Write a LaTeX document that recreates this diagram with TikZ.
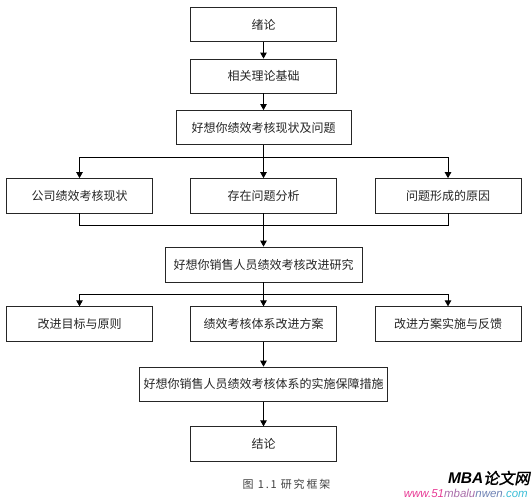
\documentclass[tikz,border=0pt]{standalone}
\usepackage{fontspec}
\usetikzlibrary{arrows.meta}
\setmainfont{Noto Sans CJK SC}
\newfontfamily\wmcjk[FakeSlant=0.2,FakeBold=1.5]{Noto Sans CJK SC}
\newfontfamily\capfont[LetterSpace=16]{Noto Sans CJK SC}
\newfontfamily\wmbold{Liberation Sans Bold Italic}
\newfontfamily\wmital{Liberation Sans Italic}
\definecolor{wa}{RGB}{232,60,150}
\definecolor{wb}{RGB}{170,110,170}
\definecolor{wc}{RGB}{110,130,180}
\definecolor{wd}{RGB}{60,190,215}
\tikzset{
  box/.style={draw=black!85,line width=0.8pt,fill=white,inner sep=0pt,font=\fontsize{12}{14}\selectfont,text=black!85},
  arr/.style={draw=black,line width=0.8pt,-{Triangle[length=6pt,width=6.5pt]}},
  lin/.style={draw=black,line width=0.8pt},
}
\begin{document}
\begin{tikzpicture}[x=1pt,y=-1pt]
\useasboundingbox (0,0) rectangle (532,499);
\node[box,minimum width=146pt,minimum height=34pt] (a) at (263.5,24.5) {绪论};
\node[box,minimum width=146pt,minimum height=34pt] (b) at (263.5,76) {相关理论基础};
\node[box,minimum width=175pt,minimum height=34pt] (c) at (263.5,127.5) {好想你绩效考核现状及问题};
\node[box,minimum width=146pt,minimum height=34.5pt] (d1) at (79.5,195.8) {公司绩效考核现状};
\node[box,minimum width=146pt,minimum height=34.5pt] (d2) at (263.5,195.8) {存在问题分析};
\node[box,minimum width=146pt,minimum height=34.5pt] (d3) at (448,195.8) {问题形成的原因};
\node[box,minimum width=197pt,minimum height=35pt] (e) at (263.5,264.5) {好想你销售人员绩效考核改进研究};
\node[box,minimum width=146pt,minimum height=34.5pt] (f1) at (79.5,324) {改进目标与原则};
\node[box,minimum width=146pt,minimum height=34.5pt] (f2) at (263.5,324) {绩效考核体系改进方案};
\node[box,minimum width=146pt,minimum height=34.5pt] (f3) at (448,324) {改进方案实施与反馈};
\node[box,minimum width=248pt,minimum height=34.5pt] (g) at (263.5,384.3) {好想你销售人员绩效考核体系的实施保障措施};
\node[box,minimum width=146pt,minimum height=34.5pt] (h) at (263.5,444) {结论};
\coordinate (br1) at (263.5,157.5);
\coordinate (mg1) at (263.5,225.5);
\coordinate (br2) at (263.5,294);
\draw[arr] (a) -- (b);
\draw[arr] (b) -- (c);
\draw[arr] (c) -- (d2);
\draw[arr] (br1) -| (d1.north);
\draw[arr] (br1) -| (d3.north);
\draw[lin] (d1.south) |- (mg1);
\draw[lin] (d3.south) |- (mg1);
\draw[arr] (d2) -- (e);
\draw[arr] (e) -- (f2);
\draw[arr] (br2) -| (f1.north);
\draw[arr] (br2) -| (f3.north);
\draw[arr] (f2) -- (g);
\draw[arr] (g) -- (h);
\node[inner sep=0pt,text=black!75,font=\fontsize{11}{12}\selectfont\capfont,name=cap] at (286.5,484) {图 1.1 研究框架};
\node[inner sep=0pt,anchor=east,name=wm1] at (530,478) {\fontsize{15.5}{17}\selectfont{\wmbold MBA}{\wmcjk 论文网}};
\node[inner sep=0pt,anchor=east,name=wm2] at (528,493) {\fontsize{11.5}{13}\selectfont\wmital\textcolor{wa}{www.51}\textcolor{wb}{mbalu}\textcolor{wc}{nwen}\textcolor{wd}{.com}};
\end{tikzpicture}
\end{document}
